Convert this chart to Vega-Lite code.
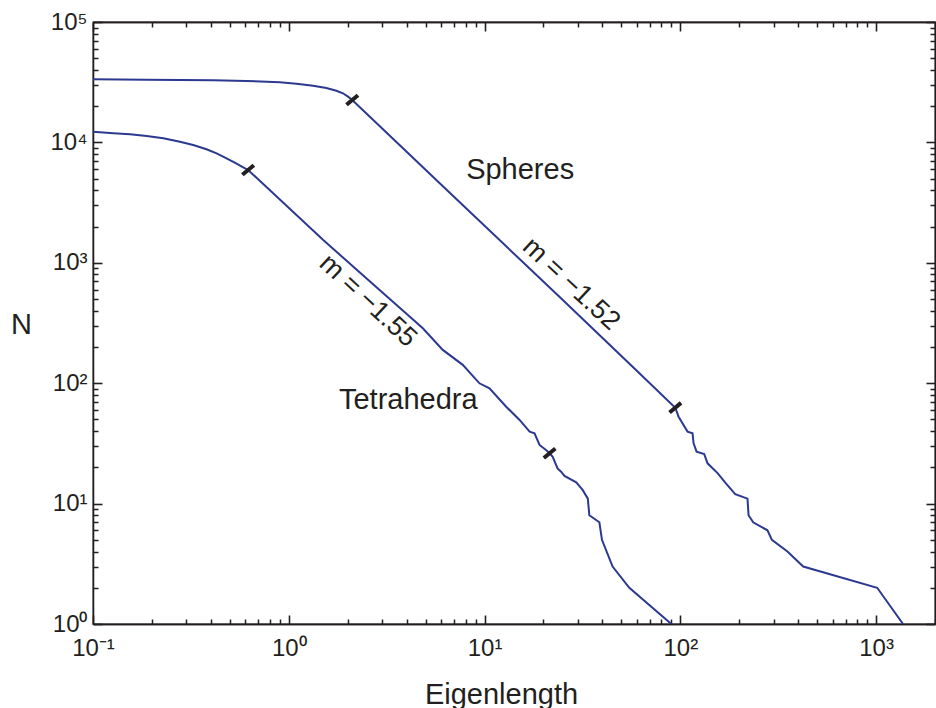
{
  "$schema": "https://vega.github.io/schema/vega-lite/v6.json",
  "width": 842,
  "height": 602,
  "autosize": "none",
  "padding": {"left": 93, "top": 22, "right": 1, "bottom": 84},
  "background": "white",
  "config": {
    "view": {"stroke": "#231f20", "strokeWidth": 1.3},
    "font": "Liberation Sans",
    "axis": {
      "gridOpacity": 0,
      "domainColor": "#231f20",
      "domainWidth": 1.3,
      "labelFont": "Liberation Sans",
      "labelFontSize": 24,
      "labelColor": "#231f20",
      "labelOverlap": false,
      "labelFlush": false,
      "titleFont": "Liberation Sans",
      "titleFontSize": 29,
      "titleFontWeight": "normal",
      "titleColor": "#231f20"
    }
  },
  "datasets": {
    "curves": [
      {"series": "Spheres", "i": 1, "eigenlength": 0.1, "N": 33400},
      {"series": "Spheres", "i": 2, "eigenlength": 0.188, "N": 33190},
      {"series": "Spheres", "i": 3, "eigenlength": 0.411, "N": 32800},
      {"series": "Spheres", "i": 4, "eigenlength": 0.608, "N": 32360},
      {"series": "Spheres", "i": 5, "eigenlength": 0.9, "N": 31560},
      {"series": "Spheres", "i": 6, "eigenlength": 1.095, "N": 30740},
      {"series": "Spheres", "i": 7, "eigenlength": 1.331, "N": 29580},
      {"series": "Spheres", "i": 8, "eigenlength": 1.556, "N": 28310},
      {"series": "Spheres", "i": 9, "eigenlength": 1.75, "N": 26870},
      {"series": "Spheres", "i": 10, "eigenlength": 1.892, "N": 25580},
      {"series": "Spheres", "i": 11, "eigenlength": 2.007, "N": 23980},
      {"series": "Spheres", "i": 12, "eigenlength": 2.11, "N": 22500},
      {"series": "Spheres", "i": 13, "eigenlength": 6.62, "N": 3830},
      {"series": "Spheres", "i": 14, "eigenlength": 24.2, "N": 520},
      {"series": "Spheres", "i": 15, "eigenlength": 59.4, "N": 128.8},
      {"series": "Spheres", "i": 16, "eigenlength": 94.3, "N": 62.6},
      {"series": "Spheres", "i": 17, "eigenlength": 98.0, "N": 52.7},
      {"series": "Spheres", "i": 18, "eigenlength": 108.9, "N": 39.6},
      {"series": "Spheres", "i": 19, "eigenlength": 115.5, "N": 38.4},
      {"series": "Spheres", "i": 20, "eigenlength": 116.9, "N": 31.7},
      {"series": "Spheres", "i": 21, "eigenlength": 121.1, "N": 27},
      {"series": "Spheres", "i": 22, "eigenlength": 132.5, "N": 25.8},
      {"series": "Spheres", "i": 23, "eigenlength": 137.8, "N": 21.6},
      {"series": "Spheres", "i": 24, "eigenlength": 155, "N": 17.9},
      {"series": "Spheres", "i": 25, "eigenlength": 171, "N": 14.7},
      {"series": "Spheres", "i": 26, "eigenlength": 190.8, "N": 12},
      {"series": "Spheres", "i": 27, "eigenlength": 220.4, "N": 11},
      {"series": "Spheres", "i": 28, "eigenlength": 223.2, "N": 8},
      {"series": "Spheres", "i": 29, "eigenlength": 235.6, "N": 7},
      {"series": "Spheres", "i": 30, "eigenlength": 278.7, "N": 6},
      {"series": "Spheres", "i": 31, "eigenlength": 293.6, "N": 5},
      {"series": "Spheres", "i": 32, "eigenlength": 352.6, "N": 4},
      {"series": "Spheres", "i": 33, "eigenlength": 424.5, "N": 3},
      {"series": "Spheres", "i": 34, "eigenlength": 1013, "N": 2},
      {"series": "Spheres", "i": 35, "eigenlength": 1374, "N": 1},
      {"series": "Tetrahedra", "i": 1, "eigenlength": 0.1, "N": 12270},
      {"series": "Tetrahedra", "i": 2, "eigenlength": 0.127, "N": 11900},
      {"series": "Tetrahedra", "i": 3, "eigenlength": 0.1545, "N": 11670},
      {"series": "Tetrahedra", "i": 4, "eigenlength": 0.188, "N": 11300},
      {"series": "Tetrahedra", "i": 5, "eigenlength": 0.2286, "N": 10820},
      {"series": "Tetrahedra", "i": 6, "eigenlength": 0.278, "N": 10140},
      {"series": "Tetrahedra", "i": 7, "eigenlength": 0.325, "N": 9510},
      {"series": "Tetrahedra", "i": 8, "eigenlength": 0.38, "N": 8770},
      {"series": "Tetrahedra", "i": 9, "eigenlength": 0.428, "N": 8110},
      {"series": "Tetrahedra", "i": 10, "eigenlength": 0.481, "N": 7380},
      {"series": "Tetrahedra", "i": 11, "eigenlength": 0.53, "N": 6780},
      {"series": "Tetrahedra", "i": 12, "eigenlength": 0.585, "N": 6210},
      {"series": "Tetrahedra", "i": 13, "eigenlength": 0.62, "N": 5900},
      {"series": "Tetrahedra", "i": 14, "eigenlength": 1.5, "N": 1546},
      {"series": "Tetrahedra", "i": 15, "eigenlength": 2.91, "N": 594},
      {"series": "Tetrahedra", "i": 16, "eigenlength": 4.06, "N": 369},
      {"series": "Tetrahedra", "i": 17, "eigenlength": 4.84, "N": 286},
      {"series": "Tetrahedra", "i": 18, "eigenlength": 6.12, "N": 189},
      {"series": "Tetrahedra", "i": 19, "eigenlength": 7.74, "N": 142},
      {"series": "Tetrahedra", "i": 20, "eigenlength": 9.42, "N": 99.8},
      {"series": "Tetrahedra", "i": 21, "eigenlength": 10.6, "N": 90.7},
      {"series": "Tetrahedra", "i": 22, "eigenlength": 12.9, "N": 63.8},
      {"series": "Tetrahedra", "i": 23, "eigenlength": 15.1, "N": 49.5},
      {"series": "Tetrahedra", "i": 24, "eigenlength": 17.0, "N": 39.6},
      {"series": "Tetrahedra", "i": 25, "eigenlength": 18.0, "N": 38.4},
      {"series": "Tetrahedra", "i": 26, "eigenlength": 19.1, "N": 30.7},
      {"series": "Tetrahedra", "i": 27, "eigenlength": 20.6, "N": 27.9},
      {"series": "Tetrahedra", "i": 28, "eigenlength": 21.5, "N": 26.2},
      {"series": "Tetrahedra", "i": 29, "eigenlength": 22.3, "N": 24.5},
      {"series": "Tetrahedra", "i": 30, "eigenlength": 23.6, "N": 19.6},
      {"series": "Tetrahedra", "i": 31, "eigenlength": 24.6, "N": 18.4},
      {"series": "Tetrahedra", "i": 32, "eigenlength": 25.6, "N": 17},
      {"series": "Tetrahedra", "i": 33, "eigenlength": 29.4, "N": 15},
      {"series": "Tetrahedra", "i": 34, "eigenlength": 31.7, "N": 13},
      {"series": "Tetrahedra", "i": 35, "eigenlength": 33.7, "N": 11},
      {"series": "Tetrahedra", "i": 36, "eigenlength": 34.3, "N": 8},
      {"series": "Tetrahedra", "i": 37, "eigenlength": 38.6, "N": 7},
      {"series": "Tetrahedra", "i": 38, "eigenlength": 39.8, "N": 5},
      {"series": "Tetrahedra", "i": 39, "eigenlength": 45.1, "N": 3},
      {"series": "Tetrahedra", "i": 40, "eigenlength": 54.9, "N": 2},
      {"series": "Tetrahedra", "i": 41, "eigenlength": 90, "N": 1}
    ],
    "fitmarks": [
      {"series": "Spheres", "eigenlength": 2.11, "N": 22500},
      {"series": "Spheres", "eigenlength": 94.3, "N": 62.6},
      {"series": "Tetrahedra", "eigenlength": 0.62, "N": 5900},
      {"series": "Tetrahedra", "eigenlength": 21.5, "N": 26.2}
    ],
    "names": [
      {"label": "Spheres", "eigenlength": 15.2, "N": 4966},
      {"label": "Tetrahedra", "eigenlength": 4.08, "N": 60.7}
    ],
    "slopes": [
      {"label": "m = −1.52", "eigenlength": 27.7, "N": 664},
      {"label": "m = −1.55", "eigenlength": 2.54, "N": 483}
    ]
  },
  "layer": [
    {
      "data": {"name": "curves"},
      "mark": {"type": "line", "color": "#2b3990", "strokeWidth": 2, "clip": true},
      "encoding": {
        "x": {
          "field": "eigenlength", "type": "quantitative",
          "scale": {"type": "log", "domain": [0.1, 2000], "nice": false},
          "axis": {
            "orient": "bottom",
            "title": "Eigenlength",
            "values": [0.1, 1, 10, 100, 1000],
            "labelExpr": "['10⁻¹','10⁰','10¹','10²','10³'][round(log(datum.value)/LN10)+1]",
            "tickSize": -9, "tickColor": "#231f20", "tickWidth": 1.6,
            "labelPadding": 21,
            "titleBaseline": "alphabetic",
            "titleAlign": "center",
            "titleX": 408,
            "titleY": 79
          }
        },
        "y": {
          "field": "N", "type": "quantitative",
          "scale": {"type": "log", "domain": [1, 100000], "nice": false},
          "axis": {
            "orient": "left",
            "title": "N",
            "values": [1, 10, 100, 1000, 10000, 100000],
            "labelExpr": "['10⁰','10¹','10²','10³','10⁴','10⁵'][round(log(datum.value)/LN10)]",
            "tickSize": -9, "tickColor": "#231f20", "tickWidth": 1.6,
            "labelPadding": 15,
            "titleAngle": 0,
            "titleAlign": "center",
            "titleBaseline": "middle",
            "titleX": -72,
            "titleY": 302
          }
        },
        "detail": {"field": "series"},
        "order": {"field": "i", "type": "quantitative"}
      }
    },
    {
      "data": {"name": "fitmarks"},
      "mark": {"type": "point", "shape": "M-1,0L1,0", "filled": false, "color": "#231f20", "strokeWidth": 4, "size": 225, "angle": -40, "opacity": 1},
      "encoding": {
        "x": {
          "field": "eigenlength", "type": "quantitative",
          "scale": {"type": "log", "domain": [0.1, 2000], "nice": false},
          "axis": {"orient": "top", "title": null, "labels": false, "values": [0.1, 1, 10, 100, 1000], "tickSize": -9, "tickColor": "#231f20", "tickWidth": 1.6}
        },
        "y": {
          "field": "N", "type": "quantitative",
          "scale": {"type": "log", "domain": [1, 100000], "nice": false},
          "axis": {"orient": "right", "title": null, "labels": false, "values": [1, 10, 100, 1000, 10000, 100000], "tickSize": -9, "tickColor": "#231f20", "tickWidth": 1.6}
        }
      }
    },
    {
      "data": {"name": "names"},
      "mark": {"type": "text", "font": "Liberation Sans", "fontSize": 29, "color": "#231f20", "align": "center", "baseline": "alphabetic"},
      "encoding": {
        "x": {
          "field": "eigenlength", "type": "quantitative",
          "scale": {"type": "log", "domain": [0.1, 2000], "nice": false},
          "axis": {"orient": "bottom", "title": null, "labels": false, "tickSize": -5, "tickColor": "#231f20", "tickWidth": 1.5,
            "values": [0.2,0.3,0.4,0.5,0.6,0.7,0.8,0.9,2,3,4,5,6,7,8,9,20,30,40,50,60,70,80,90,200,300,400,500,600,700,800,900,2000]}
        },
        "y": {
          "field": "N", "type": "quantitative",
          "scale": {"type": "log", "domain": [1, 100000], "nice": false},
          "axis": {"orient": "left", "title": null, "labels": false, "tickSize": -5, "tickColor": "#231f20", "tickWidth": 1.5,
            "values": [2,3,4,5,6,7,8,9,20,30,40,50,60,70,80,90,200,300,400,500,600,700,800,900,2000,3000,4000,5000,6000,7000,8000,9000,20000,30000,40000,50000,60000,70000,80000,90000]}
        },
        "text": {"field": "label"}
      }
    },
    {
      "data": {"name": "slopes"},
      "mark": {"type": "text", "font": "Liberation Sans", "fontSize": 27, "color": "#231f20", "align": "center", "baseline": "middle", "angle": 43},
      "encoding": {
        "x": {
          "field": "eigenlength", "type": "quantitative",
          "scale": {"type": "log", "domain": [0.1, 2000], "nice": false},
          "axis": {"orient": "top", "title": null, "labels": false, "tickSize": -5, "tickColor": "#231f20", "tickWidth": 1.5,
            "values": [0.2,0.3,0.4,0.5,0.6,0.7,0.8,0.9,2,3,4,5,6,7,8,9,20,30,40,50,60,70,80,90,200,300,400,500,600,700,800,900,2000]}
        },
        "y": {
          "field": "N", "type": "quantitative",
          "scale": {"type": "log", "domain": [1, 100000], "nice": false},
          "axis": {"orient": "right", "title": null, "labels": false, "tickSize": -5, "tickColor": "#231f20", "tickWidth": 1.5,
            "values": [2,3,4,5,6,7,8,9,20,30,40,50,60,70,80,90,200,300,400,500,600,700,800,900,2000,3000,4000,5000,6000,7000,8000,9000,20000,30000,40000,50000,60000,70000,80000,90000]}
        },
        "text": {"field": "label"}
      }
    }
  ],
  "resolve": {"axis": {"x": "independent", "y": "independent"}}
}
